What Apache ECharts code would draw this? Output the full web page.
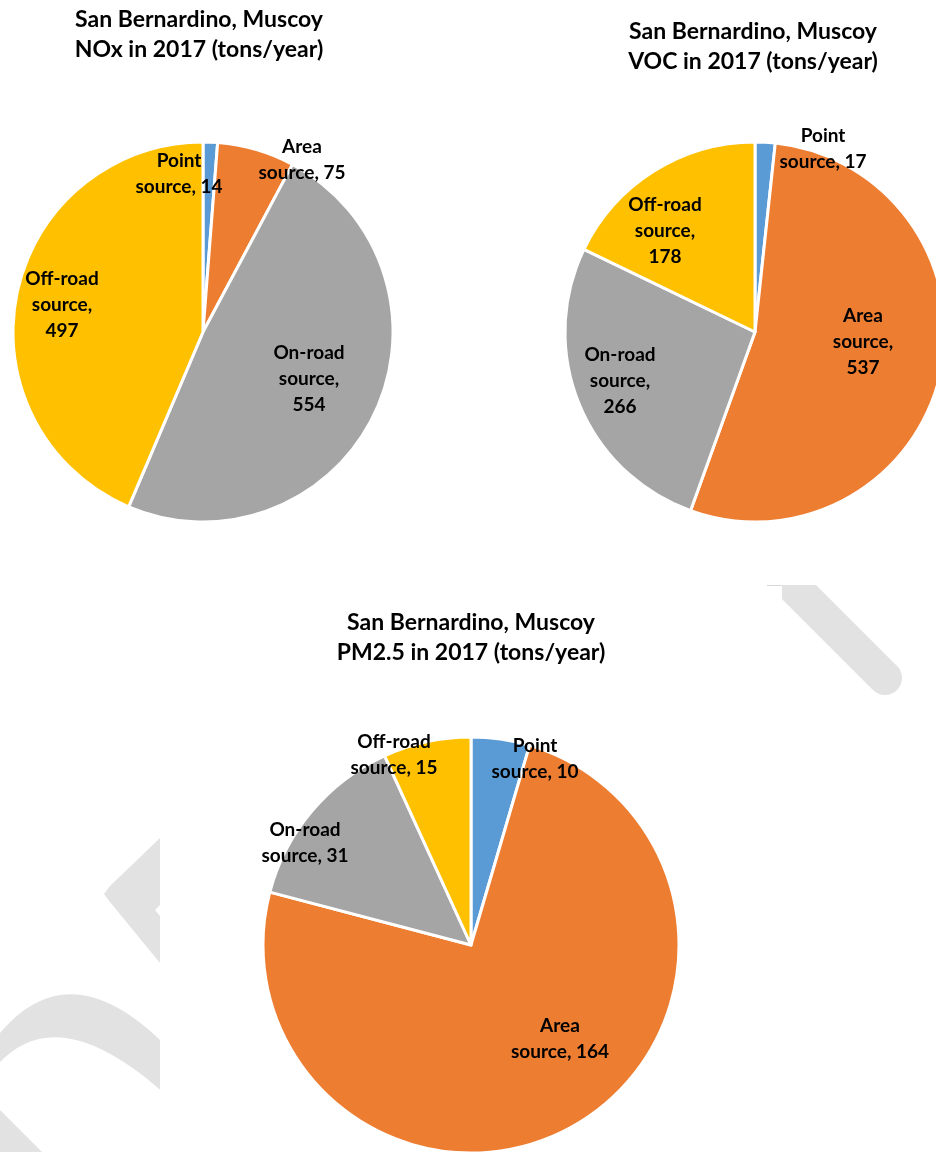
<!DOCTYPE html>
<html>
<head>
<meta charset="utf-8">
<script src="https://cdn.jsdelivr.net/npm/echarts@6/dist/echarts.min.js"></script>
<style>
  html, body { margin: 0; padding: 0; background: #fff; }
  #chart { width: 936px; height: 1152px; }
</style>
</head>
<body>
<div id="chart"></div>
<script>
// ---- Data ----
const categories = ['Point source', 'Area source', 'On-road source', 'Off-road source'];
const noxValues = [14, 75, 554, 497];
const vocValues = [17, 537, 266, 178];
const pm25Values = [10, 164, 31, 15];
const chartTitles = [
  'San Bernardino, Muscoy\nNOx in 2017 (tons/year)',
  'San Bernardino, Muscoy\nVOC in 2017 (tons/year)',
  'San Bernardino, Muscoy\nPM2.5 in 2017 (tons/year)'
];

// ---- Layout / style ----
const colors = ['#5B9BD5', '#ED7D31', '#A5A5A5', '#FFC000'];
const FONT = 'Lato, "Open Sans", sans-serif';
const panels = [
  { values: noxValues, cx: 203, cy: 332, r: 190, titleX: 199, titleTop: 5,
    wrap: [false, false, true, true],
    off: [[-24, -158], [99, -172], [106, 47], [-141, -27]] },
  { values: vocValues, cx: 755, cy: 332, r: 190, titleX: 753, titleTop: 17,
    wrap: [false, true, true, true],
    off: [[68, -183], [108, 10], [-135, 49], [-90, -101]] },
  { values: pm25Values, cx: 471, cy: 945, r: 208, titleX: 471, titleTop: 608,
    wrap: [false, false, false, false],
    off: [[64, -186], [89, 94], [-166, -102], [-77, -190]] }
];

function labelText(name, value, wrap) {
  const parts = name.split(' ');
  return parts[0] + '\n' + parts[1] + ',' + (wrap ? '\n' : ' ') + value;
}

// decorative watermark curve (quadratic bezier sampled as a polygon outline)
function quad(p0, c, p1, n) {
  const pts = [];
  for (let i = 0; i <= n; i++) {
    const t = i / n, u = 1 - t;
    pts.push([u * u * p0[0] + 2 * u * t * c[0] + t * t * p1[0],
              u * u * p0[1] + 2 * u * t * c[1] + t * t * p1[1]]);
  }
  return pts;
}
const arcOuter = quad([0, 1033], [70, 950], [165, 1045], 30);
const arcInner = quad([165, 1094], [60, 1000], [0, 1062], 30);

const WM = '#e2e2e2';
const graphic = [
  // watermark fragments
  { type: 'line', z: -10, shape: { x1: 760, y1: 553, x2: 885, y2: 678 },
    style: { stroke: WM, lineWidth: 34, lineCap: 'round' } },
  { type: 'polygon', z: -10, shape: { points: [[160,838],[110,886],[104,894],[110,902],[160,963],[160,916],[155,910],[160,905]] },
    style: { fill: WM } },
  { type: 'polygon', z: -10, shape: { points: arcOuter.concat(arcInner) }, style: { fill: WM } },
  { type: 'polygon', z: -10, shape: { points: [[0,1110],[42,1152],[0,1152]] }, style: { fill: WM } },
  // white masks (chart areas)
  { type: 'rect', z: -5, shape: { x: 0, y: 0, width: 936, height: 585 }, style: { fill: '#fff' } },
  { type: 'rect', z: -5, shape: { x: 160, y: 585, width: 622, height: 567 }, style: { fill: '#fff' } },
  { type: 'line', z: -4, shape: { x1: 767, y1: 585.5, x2: 782, y2: 585.5 }, style: { stroke: '#d6d6d6', lineWidth: 1 } }
];

const option = {
  animation: false,
  backgroundColor: '#fff',
  color: colors,
  graphic: graphic,
  title: panels.map((p, i) => ({
    text: chartTitles[i],
    left: p.titleX,
    top: p.titleTop,
    textAlign: 'center',
    padding: 0,
    textStyle: { fontFamily: FONT, fontWeight: 'bold', fontSize: 23, lineHeight: 30, color: '#000' }
  })),
  series: panels.map((p) => ({
    type: 'pie',
    center: [p.cx, p.cy],
    radius: [0, p.r],
    startAngle: 90,
    clockwise: true,
    avoidLabelOverlap: false,
    silent: true,
    data: categories.map((c, j) => ({ name: c, value: p.values[j] })),
    itemStyle: { borderColor: '#fff', borderWidth: 3 },
    label: {
      show: true,
      position: 'inside',
      formatter: (prm) => labelText(prm.name, prm.value, p.wrap[prm.dataIndex]),
      fontFamily: FONT,
      fontWeight: 'bold',
      fontSize: 19,
      lineHeight: 26,
      color: '#000',
      align: 'center'
    },
    labelLine: { show: false },
    labelLayout: (prm) => ({
      x: p.cx + p.off[prm.dataIndex][0],
      y: p.cy + p.off[prm.dataIndex][1],
      align: 'center',
      verticalAlign: 'middle'
    }),
    emphasis: { disabled: true }
  }))
};

const chart = echarts.init(document.getElementById('chart'), null, { renderer: 'canvas' });
chart.setOption(option);
</script>
</body>
</html>
